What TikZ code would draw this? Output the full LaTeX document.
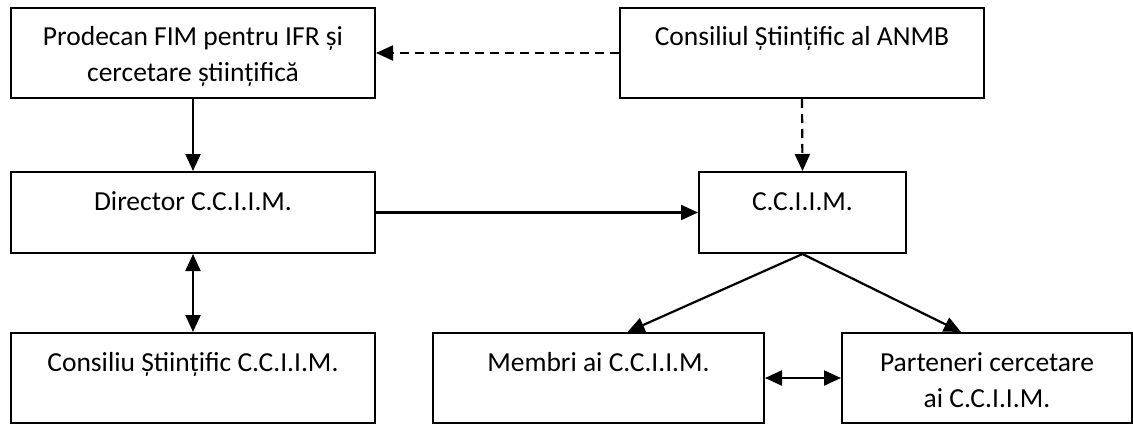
\documentclass[tikz,border=0pt]{standalone}
\usepackage{fontspec}
\setmainfont{Carlito}
\usepackage{tikz}
\usetikzlibrary{arrows.meta}
\tikzset{box/.style={draw, line width=2pt, inner sep=0pt, align=center,
   font=\fontsize{27.5}{36}\selectfont, text height=38pt},
 tall/.style={minimum height=90pt, text depth=52pt},
 short/.style={minimum height=81pt, text depth=43pt},
 twoline/.style={text height=74pt, text depth=16pt},
 arr/.style={line width=2.2pt, -{Triangle[length=17pt,width=15pt]}},
 twoarr/.style={line width=2.2pt, {Triangle[length=17pt,width=15pt]}-{Triangle[length=17pt,width=15pt]}},
 dasharr/.style={arr, dash pattern=on 9pt off 6pt},
 }

\begin{document}
\begin{tikzpicture}[x=1pt, y=1pt]
        \useasboundingbox (0, 0) rectangle (1133, 424);
        \node [box, tall, twoline, minimum width=364pt] (prodecan) at (193, 371) {Prodecan FIM pentru IFR și\\cercetare științifică};
        \node [box, tall, minimum width=364pt] (anmb) at (802, 371) {Consiliul Științific al ANMB};
        \node [box, short, minimum width=364pt] (director) at (193, 211.5) {Director C.C.I.I.M.};
        \node [box, short, minimum width=207pt] (cciim) at (802.5, 211.5) {C.C.I.I.M.};
        \node [box, tall, minimum width=364pt] (consiliu) at (193, 46) {Consiliu Științific C.C.I.I.M.};
        \node [box, tall, minimum width=331pt] (membri) at (598.5, 46) {Membri ai C.C.I.I.M.};
        \node [box, tall, twoline, minimum width=290pt] (parteneri) at (987, 46) {Parteneri cercetare\\ai C.C.I.I.M.};
        \draw [arr] (prodecan) -- (director);
        \draw [dasharr] (anmb) -- (prodecan);
        \draw [dasharr] (anmb.south) -- (cciim.north);
        \draw [arr] (director) -- (cciim);
        \draw [twoarr] (director) -- (consiliu);
        \draw [arr] (cciim.south) -- ([xshift=29pt]membri.north);
        \draw [arr] (cciim.south) -- ([xshift=-26pt]parteneri.north);
        \draw [twoarr] (membri) -- (parteneri);
    \end{tikzpicture}
\end{document}
